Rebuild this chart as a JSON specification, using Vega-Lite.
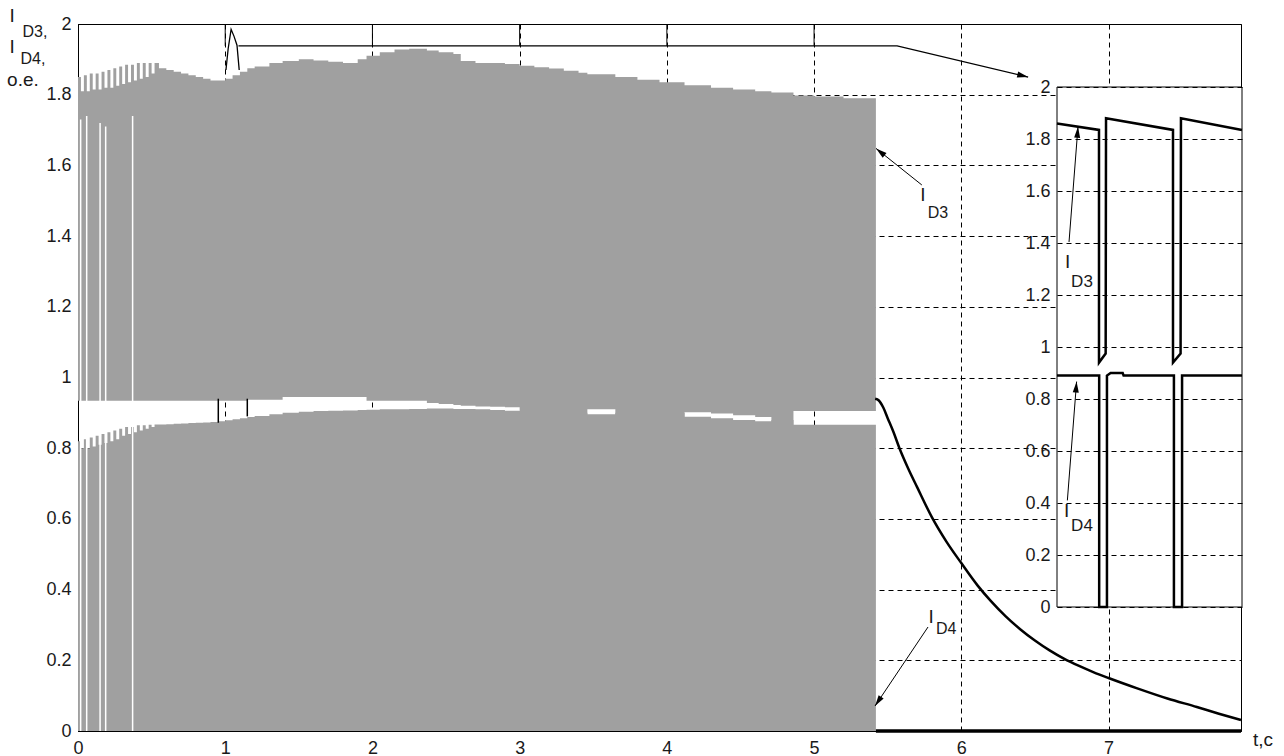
{
  "$schema": "https://vega.github.io/schema/vega-lite/v6.json",
  "width": 1163,
  "height": 707,
  "autosize": {"type": "none"},
  "padding": {"left": 78, "top": 24, "right": 43, "bottom": 25},
  "background": "white",
  "config": {
    "view": {"stroke": "black", "strokeWidth": 1},
    "font": "Liberation Sans"
  },
  "datasets": {
    "band": [
      {"t": 0.00, "hi3": 1.85, "lo3": 0.934, "hi4": 0.82},
      {"t": 0.02, "hi3": 1.81, "lo3": 0.934, "hi4": 0.80},
      {"t": 0.04, "hi3": 1.855, "lo3": 0.934, "hi4": 0.825},
      {"t": 0.06, "hi3": 1.81, "lo3": 0.934, "hi4": 0.80},
      {"t": 0.08, "hi3": 1.86, "lo3": 0.934, "hi4": 0.83},
      {"t": 0.10, "hi3": 1.815, "lo3": 0.934, "hi4": 0.805},
      {"t": 0.12, "hi3": 1.86, "lo3": 0.934, "hi4": 0.835},
      {"t": 0.14, "hi3": 1.815, "lo3": 0.934, "hi4": 0.81},
      {"t": 0.16, "hi3": 1.865, "lo3": 0.934, "hi4": 0.84},
      {"t": 0.18, "hi3": 1.82, "lo3": 0.934, "hi4": 0.815},
      {"t": 0.20, "hi3": 1.87, "lo3": 0.934, "hi4": 0.845},
      {"t": 0.22, "hi3": 1.82, "lo3": 0.934, "hi4": 0.82},
      {"t": 0.24, "hi3": 1.875, "lo3": 0.934, "hi4": 0.85},
      {"t": 0.26, "hi3": 1.825, "lo3": 0.934, "hi4": 0.825},
      {"t": 0.28, "hi3": 1.88, "lo3": 0.934, "hi4": 0.855},
      {"t": 0.30, "hi3": 1.83, "lo3": 0.934, "hi4": 0.835},
      {"t": 0.32, "hi3": 1.885, "lo3": 0.934, "hi4": 0.86},
      {"t": 0.34, "hi3": 1.835, "lo3": 0.934, "hi4": 0.84},
      {"t": 0.36, "hi3": 1.885, "lo3": 0.934, "hi4": 0.86},
      {"t": 0.38, "hi3": 1.84, "lo3": 0.934, "hi4": 0.845},
      {"t": 0.40, "hi3": 1.89, "lo3": 0.934, "hi4": 0.865},
      {"t": 0.42, "hi3": 1.845, "lo3": 0.934, "hi4": 0.85},
      {"t": 0.44, "hi3": 1.89, "lo3": 0.934, "hi4": 0.865},
      {"t": 0.46, "hi3": 1.85, "lo3": 0.934, "hi4": 0.855},
      {"t": 0.48, "hi3": 1.89, "lo3": 0.934, "hi4": 0.866},
      {"t": 0.50, "hi3": 1.86, "lo3": 0.934, "hi4": 0.86},
      {"t": 0.52, "hi3": 1.89, "lo3": 0.934, "hi4": 0.867},
      {"t": 0.55, "hi3": 1.875, "lo3": 0.934, "hi4": 0.867},
      {"t": 0.60, "hi3": 1.87, "lo3": 0.934, "hi4": 0.868},
      {"t": 0.65, "hi3": 1.865, "lo3": 0.934, "hi4": 0.869},
      {"t": 0.70, "hi3": 1.86, "lo3": 0.934, "hi4": 0.87},
      {"t": 0.75, "hi3": 1.855, "lo3": 0.934, "hi4": 0.871},
      {"t": 0.80, "hi3": 1.85, "lo3": 0.934, "hi4": 0.872},
      {"t": 0.85, "hi3": 1.845, "lo3": 0.934, "hi4": 0.873},
      {"t": 0.90, "hi3": 1.84, "lo3": 0.934, "hi4": 0.874},
      {"t": 0.95, "hi3": 1.84, "lo3": 0.934, "hi4": 0.876},
      {"t": 1.00, "hi3": 1.845, "lo3": 0.934, "hi4": 0.879},
      {"t": 1.05, "hi3": 1.855, "lo3": 0.934, "hi4": 0.882},
      {"t": 1.10, "hi3": 1.865, "lo3": 0.934, "hi4": 0.885},
      {"t": 1.15, "hi3": 1.875, "lo3": 0.937, "hi4": 0.888},
      {"t": 1.20, "hi3": 1.88, "lo3": 0.937, "hi4": 0.891},
      {"t": 1.30, "hi3": 1.89, "lo3": 0.937, "hi4": 0.896},
      {"t": 1.39, "hi3": 1.895, "lo3": 0.945, "hi4": 0.9},
      {"t": 1.50, "hi3": 1.9, "lo3": 0.945, "hi4": 0.903},
      {"t": 1.60, "hi3": 1.897, "lo3": 0.945, "hi4": 0.905},
      {"t": 1.70, "hi3": 1.893, "lo3": 0.945, "hi4": 0.906},
      {"t": 1.80, "hi3": 1.89, "lo3": 0.945, "hi4": 0.907},
      {"t": 1.90, "hi3": 1.9, "lo3": 0.945, "hi4": 0.908},
      {"t": 1.96, "hi3": 1.91, "lo3": 0.934, "hi4": 0.909},
      {"t": 2.05, "hi3": 1.92, "lo3": 0.934, "hi4": 0.91},
      {"t": 2.15, "hi3": 1.928, "lo3": 0.934, "hi4": 0.91},
      {"t": 2.25, "hi3": 1.93, "lo3": 0.934, "hi4": 0.911},
      {"t": 2.37, "hi3": 1.925, "lo3": 0.928, "hi4": 0.912},
      {"t": 2.45, "hi3": 1.92, "lo3": 0.925, "hi4": 0.912},
      {"t": 2.55, "hi3": 1.915, "lo3": 0.922, "hi4": 0.911},
      {"t": 2.60, "hi3": 1.895, "lo3": 0.92, "hi4": 0.911},
      {"t": 2.70, "hi3": 1.89, "lo3": 0.918, "hi4": 0.91},
      {"t": 2.80, "hi3": 1.89, "lo3": 0.917, "hi4": 0.908},
      {"t": 2.90, "hi3": 1.887, "lo3": 0.916, "hi4": 0.906},
      {"t": 3.00, "hi3": 1.882, "lo3": 0.88, "hi4": 0.905},
      {"t": 3.10, "hi3": 1.878, "lo3": 0.88, "hi4": 0.904},
      {"t": 3.20, "hi3": 1.874, "lo3": 0.88, "hi4": 0.903},
      {"t": 3.30, "hi3": 1.868, "lo3": 0.88, "hi4": 0.902},
      {"t": 3.40, "hi3": 1.862, "lo3": 0.88, "hi4": 0.9},
      {"t": 3.46, "hi3": 1.858, "lo3": 0.91, "hi4": 0.896},
      {"t": 3.65, "hi3": 1.85, "lo3": 0.88, "hi4": 0.9},
      {"t": 3.80, "hi3": 1.842, "lo3": 0.88, "hi4": 0.9},
      {"t": 3.95, "hi3": 1.835, "lo3": 0.88, "hi4": 0.9},
      {"t": 4.12, "hi3": 1.827, "lo3": 0.902, "hi4": 0.889},
      {"t": 4.30, "hi3": 1.82, "lo3": 0.898, "hi4": 0.885},
      {"t": 4.45, "hi3": 1.815, "lo3": 0.893, "hi4": 0.88},
      {"t": 4.60, "hi3": 1.81, "lo3": 0.888, "hi4": 0.876},
      {"t": 4.71, "hi3": 1.806, "lo3": 0.86, "hi4": 0.88},
      {"t": 4.86, "hi3": 1.798, "lo3": 0.905, "hi4": 0.866},
      {"t": 5.00, "hi3": 1.795, "lo3": 0.905, "hi4": 0.866},
      {"t": 5.20, "hi3": 1.79, "lo3": 0.905, "hi4": 0.866},
      {"t": 5.42, "hi3": 1.785, "lo3": 0.905, "hi4": 0.866}
    ],
    "stripes": [
      {"t": 0.018, "lo": 0, "hi": 1.73},
      {"t": 0.059, "lo": 0, "hi": 1.74},
      {"t": 0.15, "lo": 0, "hi": 1.72},
      {"t": 0.188, "lo": 0, "hi": 1.71},
      {"t": 0.371, "lo": 0, "hi": 1.74}
    ],
    "gapticks": [
      {"t": 0.953, "lo": 0.872, "hi": 0.94},
      {"t": 1.15, "lo": 0.89, "hi": 0.94}
    ],
    "toprules": [
      {"t": 1, "lo": 1.938, "hi": 2},
      {"t": 2, "lo": 1.938, "hi": 2},
      {"t": 3, "lo": 1.938, "hi": 2},
      {"t": 4, "lo": 1.938, "hi": 2},
      {"t": 5, "lo": 1.938, "hi": 2}
    ],
    "decay": [
      {"t": 5.415, "v": 0.94},
      {"t": 5.44, "v": 0.935},
      {"t": 5.47, "v": 0.915},
      {"t": 5.5, "v": 0.885},
      {"t": 5.54, "v": 0.845},
      {"t": 5.58, "v": 0.80},
      {"t": 5.64, "v": 0.742},
      {"t": 5.7, "v": 0.69},
      {"t": 5.8, "v": 0.605},
      {"t": 5.9, "v": 0.535},
      {"t": 6.0, "v": 0.475},
      {"t": 6.11, "v": 0.412},
      {"t": 6.2, "v": 0.368},
      {"t": 6.3, "v": 0.325},
      {"t": 6.4, "v": 0.288},
      {"t": 6.5, "v": 0.256},
      {"t": 6.6, "v": 0.228},
      {"t": 6.7, "v": 0.204},
      {"t": 6.8, "v": 0.184},
      {"t": 6.9, "v": 0.166},
      {"t": 7.0, "v": 0.15},
      {"t": 7.2, "v": 0.12},
      {"t": 7.4, "v": 0.092},
      {"t": 7.6, "v": 0.068},
      {"t": 7.75, "v": 0.049},
      {"t": 7.9, "v": 0.031}
    ],
    "off": [
      {"t1": 5.42, "t2": 7.9, "v": 0}
    ],
    "peak": [
      {"t": 1.005, "v": 1.87},
      {"t": 1.02, "v": 1.93},
      {"t": 1.04, "v": 1.985},
      {"t": 1.06, "v": 1.965},
      {"t": 1.08, "v": 1.94},
      {"t": 1.095, "v": 1.87}
    ],
    "zoomline": [
      {"t": 1.09, "v": 1.938},
      {"t": 5.564, "v": 1.938},
      {"t": 6.454, "v": 1.85}
    ],
    "arrows": [
      {"id": "d3", "t1": 5.732, "v1": 1.5446, "t2": 5.421, "v2": 1.648},
      {"id": "d4", "t1": 5.774, "v1": 0.2942, "t2": 5.414, "v2": 0.0707}
    ],
    "heads": [
      {"id": "zoom", "t": 6.454, "v": 1.85},
      {"id": "d3", "t": 5.421, "v": 1.648},
      {"id": "d4", "t": 5.414, "v": 0.0707}
    ],
    "labels": [
      {"txt": "I", "t": -0.448, "v": 2.024, "kind": "big"},
      {"txt": "D3,", "t": -0.292, "v": 1.977, "kind": "sub"},
      {"txt": "I", "t": -0.448, "v": 1.935, "kind": "big"},
      {"txt": "D4,", "t": -0.306, "v": 1.901, "kind": "sub"},
      {"txt": "o.e.", "t": -0.374, "v": 1.842, "kind": "mid"},
      {"txt": "t,c", "t": 8.05, "v": -0.025, "kind": "mid"},
      {"txt": "I", "t": 5.74, "v": 1.516, "kind": "big"},
      {"txt": "D3", "t": 5.842, "v": 1.465, "kind": "sub"},
      {"txt": "I", "t": 5.795, "v": 0.3225, "kind": "big"},
      {"txt": "D4", "t": 5.897, "v": 0.2885, "kind": "sub"}
    ],
    "inbox": [
      {"x0": 0, "x1": 100, "y0": 0, "y1": 2}
    ],
    "ins3": [
      {"i": 0, "x": 0, "y": 1.86},
      {"i": 1, "x": 22.7, "y": 1.835},
      {"i": 2, "x": 22.7, "y": 0.94},
      {"i": 3, "x": 26.3, "y": 0.975},
      {"i": 4, "x": 26.5, "y": 1.88},
      {"i": 5, "x": 62.7, "y": 1.835},
      {"i": 6, "x": 62.7, "y": 0.94},
      {"i": 7, "x": 66.8, "y": 0.975},
      {"i": 8, "x": 67.0, "y": 1.88},
      {"i": 9, "x": 100, "y": 1.835}
    ],
    "ins4": [
      {"i": 0, "x": 0, "y": 0.89},
      {"i": 1, "x": 22.8, "y": 0.89},
      {"i": 2, "x": 22.8, "y": 0},
      {"i": 3, "x": 27.0, "y": 0},
      {"i": 4, "x": 27.0, "y": 0.89},
      {"i": 5, "x": 29.0, "y": 0.9},
      {"i": 6, "x": 35.5, "y": 0.9},
      {"i": 7, "x": 36.0, "y": 0.89},
      {"i": 8, "x": 63.2, "y": 0.89},
      {"i": 9, "x": 63.2, "y": 0},
      {"i": 10, "x": 67.6, "y": 0},
      {"i": 11, "x": 67.6, "y": 0.89},
      {"i": 12, "x": 100, "y": 0.89}
    ],
    "inarrows": [
      {"id": "d3", "x1": 6.5, "y1": 1.404, "x2": 11.35, "y2": 1.847},
      {"id": "d4", "x1": 5.6, "y1": 0.41, "x2": 10.6, "y2": 0.867}
    ],
    "inlabels": [
      {"txt": "I", "x": 5.8, "y": 1.327, "kind": "big"},
      {"txt": "D3", "x": 13.5, "y": 1.25, "kind": "sub"},
      {"txt": "I", "x": 5.2, "y": 0.369, "kind": "big"},
      {"txt": "D4", "x": 13.5, "y": 0.312, "kind": "sub"}
    ]
  },
  "layer": [
    {
      "layer": [
        {
          "data": {"name": "band"},
          "mark": {"type": "area", "interpolate": "step-after", "color": "#a0a0a0"},
          "encoding": {
            "x": {
              "field": "t", "type": "quantitative",
              "scale": {"domain": [0, 7.9], "nice": false, "zero": false},
              "axis": {
                "title": null, "values": [0, 1, 2, 3, 4, 5, 6, 7], "format": "~g",
                "grid": true, "gridColor": "black", "gridOpacity": 1, "gridDash": [5, 4], "gridWidth": 1,
                "ticks": false, "domain": true, "domainColor": "black", "domainWidth": 1,
                "labelFontSize": 18, "labelColor": "#1a1a1a", "labelPadding": 8, "labelFlush": false
              }
            },
            "y": {
              "field": "hi4", "type": "quantitative",
              "scale": {"domain": [0, 2], "nice": false},
              "axis": {
                "title": null, "values": [0, 0.2, 0.4, 0.6, 0.8, 1, 1.2, 1.4, 1.6, 1.8, 2], "format": "~g",
                "grid": true, "gridColor": "black", "gridOpacity": 1, "gridDash": [5, 4], "gridWidth": 1,
                "ticks": false, "domain": true, "domainColor": "black", "domainWidth": 1,
                "labelFontSize": 18, "labelColor": "#1a1a1a", "labelPadding": 7, "labelFlush": false
              }
            },
            "y2": {"datum": 0}
          }
        },
        {
          "data": {"name": "band"},
          "mark": {"type": "area", "interpolate": "step-after", "color": "#a0a0a0"},
          "encoding": {
            "x": {"field": "t", "type": "quantitative", "title": null},
            "y": {"field": "hi3", "type": "quantitative", "title": null},
            "y2": {"field": "lo3"}
          }
        },
        {
          "data": {"name": "stripes"},
          "mark": {"type": "rule", "color": "white", "strokeWidth": 1.5},
          "encoding": {
            "x": {"field": "t", "type": "quantitative", "title": null},
            "y": {"field": "lo", "type": "quantitative", "title": null},
            "y2": {"field": "hi"}
          }
        },
        {
          "data": {"name": "gapticks"},
          "mark": {"type": "rule", "color": "black", "strokeWidth": 1.5},
          "encoding": {
            "x": {"field": "t", "type": "quantitative", "title": null},
            "y": {"field": "lo", "type": "quantitative", "title": null},
            "y2": {"field": "hi"}
          }
        },
        {
          "data": {"name": "toprules"},
          "mark": {"type": "rule", "color": "black", "strokeWidth": 1},
          "encoding": {
            "x": {"field": "t", "type": "quantitative", "title": null},
            "y": {"field": "lo", "type": "quantitative", "title": null},
            "y2": {"field": "hi"}
          }
        },
        {
          "data": {"name": "decay"},
          "mark": {"type": "line", "color": "black", "strokeWidth": 2.5, "interpolate": "monotone"},
          "encoding": {
            "x": {"field": "t", "type": "quantitative", "title": null},
            "y": {"field": "v", "type": "quantitative", "title": null}
          }
        },
        {
          "data": {"name": "off"},
          "mark": {"type": "rule", "color": "black", "strokeWidth": 3.5},
          "encoding": {
            "x": {"field": "t1", "type": "quantitative", "title": null},
            "x2": {"field": "t2"},
            "y": {"field": "v", "type": "quantitative", "title": null}
          }
        },
        {
          "data": {"name": "peak"},
          "mark": {"type": "line", "color": "black", "strokeWidth": 1.3},
          "encoding": {
            "x": {"field": "t", "type": "quantitative", "title": null},
            "y": {"field": "v", "type": "quantitative", "title": null}
          }
        },
        {
          "data": {"name": "zoomline"},
          "mark": {"type": "line", "color": "black", "strokeWidth": 1.3},
          "encoding": {
            "x": {"field": "t", "type": "quantitative", "title": null},
            "y": {"field": "v", "type": "quantitative", "title": null}
          }
        },
        {
          "data": {"name": "arrows"},
          "mark": {"type": "rule", "color": "black", "strokeWidth": 1},
          "encoding": {
            "x": {"field": "t1", "type": "quantitative", "title": null},
            "y": {"field": "v1", "type": "quantitative", "title": null},
            "x2": {"field": "t2"},
            "y2": {"field": "v2"}
          }
        },
        {
          "data": {"name": "heads"},
          "transform": [{"filter": "datum.id === 'zoom'"}],
          "mark": {"type": "point", "shape": "M0,0 L-1.1,4 L1.1,4 Z", "filled": true, "color": "black", "size": 30, "angle": 103.3, "opacity": 1},
          "encoding": {
            "x": {"field": "t", "type": "quantitative", "title": null},
            "y": {"field": "v", "type": "quantitative", "title": null}
          }
        },
        {
          "data": {"name": "heads"},
          "transform": [{"filter": "datum.id === 'd3'"}],
          "mark": {"type": "point", "shape": "M0,0 L-1.1,4 L1.1,4 Z", "filled": true, "color": "black", "size": 30, "angle": -51.2, "opacity": 1},
          "encoding": {
            "x": {"field": "t", "type": "quantitative", "title": null},
            "y": {"field": "v", "type": "quantitative", "title": null}
          }
        },
        {
          "data": {"name": "heads"},
          "transform": [{"filter": "datum.id === 'd4'"}],
          "mark": {"type": "point", "shape": "M0,0 L-1.1,4 L1.1,4 Z", "filled": true, "color": "black", "size": 30, "angle": -146.1, "opacity": 1},
          "encoding": {
            "x": {"field": "t", "type": "quantitative", "title": null},
            "y": {"field": "v", "type": "quantitative", "title": null}
          }
        },
        {
          "data": {"name": "labels"},
          "transform": [{"filter": "datum.kind === 'big'"}],
          "mark": {"type": "text", "fontSize": 19, "color": "#1a1a1a", "align": "center", "baseline": "middle"},
          "encoding": {
            "x": {"field": "t", "type": "quantitative", "title": null},
            "y": {"field": "v", "type": "quantitative", "title": null},
            "text": {"field": "txt"}
          }
        },
        {
          "data": {"name": "labels"},
          "transform": [{"filter": "datum.kind === 'sub'"}],
          "mark": {"type": "text", "fontSize": 16, "color": "#1a1a1a", "align": "center", "baseline": "middle"},
          "encoding": {
            "x": {"field": "t", "type": "quantitative", "title": null},
            "y": {"field": "v", "type": "quantitative", "title": null},
            "text": {"field": "txt"}
          }
        },
        {
          "data": {"name": "labels"},
          "transform": [{"filter": "datum.kind === 'mid'"}],
          "mark": {"type": "text", "fontSize": 19, "color": "#1a1a1a", "align": "center", "baseline": "middle"},
          "encoding": {
            "x": {"field": "t", "type": "quantitative", "title": null},
            "y": {"field": "v", "type": "quantitative", "title": null},
            "text": {"field": "txt"}
          }
        }
      ]
    },
    {
      "layer": [
        {
          "data": {"name": "inbox"},
          "mark": {"type": "rect", "fill": "white", "stroke": "black", "strokeWidth": 1},
          "encoding": {
            "x": {
              "field": "x0", "type": "quantitative",
              "scale": {"domain": [0, 100], "range": [979, 1164], "nice": false, "zero": false},
              "axis": null
            },
            "x2": {"field": "x1"},
            "y": {
              "field": "y0", "type": "quantitative",
              "scale": {"domain": [0, 2], "range": [583, 63], "nice": false},
              "axis": {
                "title": null, "orient": "left", "offset": -979, "zindex": 1,
                "values": [0, 0.2, 0.4, 0.6, 0.8, 1, 1.2, 1.4, 1.6, 1.8, 2], "format": "~g",
                "grid": true, "gridColor": "black", "gridOpacity": 1, "gridDash": [5, 4], "gridWidth": 1,
                "ticks": false, "domain": false,
                "labelFontSize": 18, "labelColor": "#1a1a1a", "labelPadding": 7, "labelFlush": false
              }
            },
            "y2": {"field": "y1"}
          }
        },
        {
          "data": {"name": "ins3"},
          "mark": {"type": "line", "color": "black", "strokeWidth": 2.5},
          "encoding": {
            "x": {"field": "x", "type": "quantitative", "title": null},
            "y": {"field": "y", "type": "quantitative", "title": null},
            "order": {"field": "i", "type": "quantitative"}
          }
        },
        {
          "data": {"name": "ins4"},
          "mark": {"type": "line", "color": "black", "strokeWidth": 2.5},
          "encoding": {
            "x": {"field": "x", "type": "quantitative", "title": null},
            "y": {"field": "y", "type": "quantitative", "title": null},
            "order": {"field": "i", "type": "quantitative"}
          }
        },
        {
          "data": {"name": "inarrows"},
          "mark": {"type": "rule", "color": "black", "strokeWidth": 1},
          "encoding": {
            "x": {"field": "x1", "type": "quantitative", "title": null},
            "y": {"field": "y1", "type": "quantitative", "title": null},
            "x2": {"field": "x2"},
            "y2": {"field": "y2"}
          }
        },
        {
          "data": {"name": "inarrows"},
          "mark": {"type": "point", "shape": "M0,0 L-1.1,4 L1.1,4 Z", "filled": true, "color": "black", "size": 30, "angle": 4.5, "opacity": 1},
          "encoding": {
            "x": {"field": "x2", "type": "quantitative", "title": null},
            "y": {"field": "y2", "type": "quantitative", "title": null}
          }
        },
        {
          "data": {"name": "inlabels"},
          "transform": [{"filter": "datum.kind === 'big'"}],
          "mark": {"type": "text", "fontSize": 19, "color": "#1a1a1a", "align": "center", "baseline": "middle"},
          "encoding": {
            "x": {"field": "x", "type": "quantitative", "title": null},
            "y": {"field": "y", "type": "quantitative", "title": null},
            "text": {"field": "txt"}
          }
        },
        {
          "data": {"name": "inlabels"},
          "transform": [{"filter": "datum.kind === 'sub'"}],
          "mark": {"type": "text", "fontSize": 17, "color": "#1a1a1a", "align": "center", "baseline": "middle"},
          "encoding": {
            "x": {"field": "x", "type": "quantitative", "title": null},
            "y": {"field": "y", "type": "quantitative", "title": null},
            "text": {"field": "txt"}
          }
        }
      ]
    }
  ],
  "resolve": {"scale": {"x": "independent", "y": "independent"}}
}
